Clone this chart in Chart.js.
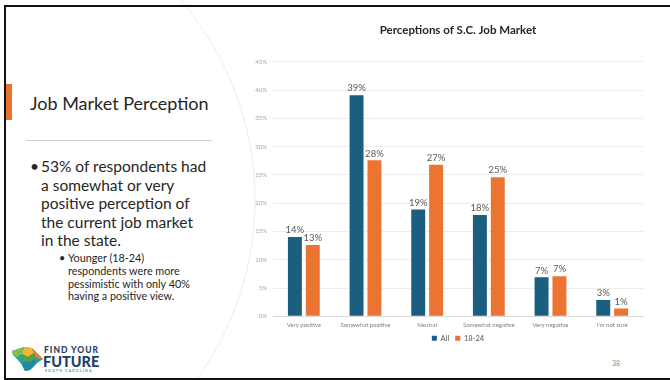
<!DOCTYPE html>
<html>
<head>
<meta charset="utf-8">
<script src="https://cdn.jsdelivr.net/npm/chart.js@4"></script>
<style>
  html, body { margin: 0; padding: 0; background: #fff; }
  #slide { position: relative; width: 670px; height: 380px; overflow: hidden; background: #fff; font-family: Lato, "Noto Sans", sans-serif; color: #262626; }
  .abs { position: absolute; white-space: nowrap; }
  #frame { position: absolute; left: 4px; top: 5px; width: 700px; height: 371px; border-top: 2px solid #111; border-left: 2px solid #111; border-bottom: 2px solid #111; }
  #accent { position: absolute; left: 6px; top: 84px; width: 6px; height: 36px; background: #e8732e; }
  #sep { position: absolute; left: 26px; top: 140px; width: 186px; height: 1px; background: #cfcfcf; }
  .l1 { font-size: 15.5px; line-height: 18px; }
  .l2 { font-size: 10.8px; line-height: 12px; }
  #chartbox { position: absolute; left: 250px; top: 15px; width: 400px; height: 346px; }
</style>
</head>
<body>
<div id="slide">
  <svg class="abs" style="left:0;top:0" width="670" height="380">
    <ellipse cx="-60" cy="200" rx="315" ry="310" fill="none" stroke="#ececec" stroke-width="1"/>
  </svg>
  <div id="frame"></div>
  <div id="accent"></div>
  <div class="abs" style="left:30px; top:92px; font-size:18px; line-height:22px;">Job Market Perception</div>
  <div id="sep"></div>

  <div class="abs l1" style="left:30px; top:157px;">•</div>
  <div class="abs l1" style="left:41px; top:157px;">53% of respondents had</div>
  <div class="abs l1" style="left:41px; top:176px;">a somewhat or very</div>
  <div class="abs l1" style="left:41px; top:194px;">positive perception of</div>
  <div class="abs l1" style="left:41px; top:213px;">the current job market</div>
  <div class="abs l1" style="left:41px; top:231px;">in the state.</div>

  <div class="abs l2" style="left:59px; top:252px;">•</div>
  <div class="abs l2" style="left:68px; top:252px;">Younger (18-24)</div>
  <div class="abs l2" style="left:68px; top:265px;">respondents were more</div>
  <div class="abs l2" style="left:68px; top:278px;">pessimistic with only 40%</div>
  <div class="abs l2" style="left:68px; top:290px;">having a positive view.</div>

  <svg class="abs" style="left:10px;top:345px" width="36" height="28" viewBox="0 0 36 28">
    <polygon points="2,6 14,2 22,3 28,9 33,14 26,19 20,25 15,26 12,20 7,14 3,10" fill="#2aa39a"/>
    <polygon points="14,2 22,3 24,8 18,12 12,9" fill="#f2b632"/>
    <polygon points="22,3 28,9 33,14 26,13 24,8" fill="#ee7a33"/>
    <polygon points="2,6 14,2 12,9 7,12 3,10" fill="#7fbf4d"/>
    <polygon points="12,9 18,12 24,8 26,13 20,17 14,16" fill="#5d9c47"/>
    <polygon points="14,16 20,17 26,13 26,19 20,25 15,26 12,20" fill="#1f8aa0"/>
  </svg>
  <div class="abs" style="left:44px; top:345px; font-size:8.5px; line-height:10px; font-weight:900; color:#1e3f66; letter-spacing:1px;">FIND YOUR</div>
  <div class="abs" style="left:43px; top:354px; font-size:14.5px; line-height:16px; font-weight:900; color:#1e3f66;">FUTURE</div>
  <div class="abs" style="left:45px; top:369px; font-size:3.5px; line-height:4px; font-weight:700; color:#2aa39a; letter-spacing:1.2px;">SOUTH CAROLINA</div>

  <div class="abs" style="left:612px; top:359px; font-size:7px; line-height:9px; color:#8c8c8c;">38</div>

  <div id="chartbox"><canvas id="c"></canvas></div>
</div>

<script>
const categories = ["Very positive", "Somewhat positive", "Neutral", "Somewhat negative", "Very negative", "I'm not sure"];
const seriesAll = [14.0, 39.1, 18.9, 17.9, 6.9, 2.9];
const series1824 = [12.6, 27.6, 26.8, 24.6, 7.1, 1.4];
const labelsAll = ["14%", "39%", "19%", "18%", "7%", "3%"];
const labels1824 = ["13%", "28%", "27%", "25%", "7%", "1%"];
const seriesNames = ["All", "18-24"];
const yTicks = [0, 5, 10, 15, 20, 25, 30, 35, 40, 45];

const FONT = "Lato, 'Noto Sans', sans-serif";

const valueLabels = {
  id: 'valueLabels',
  afterDatasetsDraw(chart) {
    const ctx = chart.ctx;
    ctx.save();
    ctx.font = "9.5px " + FONT;
    ctx.fillStyle = "#595959";
    ctx.textAlign = "center";
    ctx.textBaseline = "bottom";
    chart.data.datasets.forEach((ds, di) => {
      const meta = chart.getDatasetMeta(di);
      meta.data.forEach((bar, i) => {
        ctx.fillText(ds.valueLabels[i], bar.x, bar.y - 2);
      });
    });
    ctx.restore();
  }
};

// pull the legend a little closer to the axis labels
const legendShift = {
  id: 'legendShift',
  afterLayout(chart) {
    if (chart.legend) { chart.legend.top -= 5; chart.legend.bottom -= 5; }
  }
};

new Chart(document.getElementById('c'), {
  type: 'bar',
  data: {
    labels: categories,
    datasets: [
      { label: seriesNames[0], data: seriesAll, valueLabels: labelsAll, backgroundColor: '#1b5e80', categoryPercentage: 0.58, barPercentage: 0.78 },
      { label: seriesNames[1], data: series1824, valueLabels: labels1824, backgroundColor: '#eb7433', categoryPercentage: 0.58, barPercentage: 0.78 }
    ]
  },
  options: {
    responsive: true,
    maintainAspectRatio: false,
    animation: false,
    devicePixelRatio: 1,
    layout: { padding: { left: 0, right: 7, top: 0, bottom: 4 } },
    plugins: {
      title: {
        display: true, fullSize: false,
        text: 'Perceptions of S.C. Job Market',
        color: '#262626',
        font: { family: FONT, size: 11.5, weight: 'bold' },
        padding: { top: 8, bottom: 25 }
      },
      legend: {
        position: 'bottom', fullSize: false,
        labels: { boxWidth: 5, boxHeight: 5, padding: 6, color: '#595959', font: { family: FONT, size: 7.5 } }
      },
      tooltip: { enabled: false }
    },
    scales: {
      x: {
        grid: { display: false, drawTicks: false },
        border: { display: true, color: '#d9d9d9' },
        ticks: { color: '#7f7f7f', font: { family: FONT, size: 6 }, padding: 5, maxRotation: 0, autoSkip: false }
      },
      y: {
        min: 0, max: 45,
        afterFit(s) { s.width = 23; },
        afterBuildTicks(s) { s.ticks = yTicks.map(v => ({ value: v })); },
        grid: { color: '#ececec', drawTicks: false },
        border: { display: false },
        ticks: { color: '#a6a6a6', font: { family: FONT, size: 6 }, padding: 6, callback: v => v + '%' }
      }
    }
  },
  plugins: [valueLabels, legendShift]
});
</script>
</body>
</html>
